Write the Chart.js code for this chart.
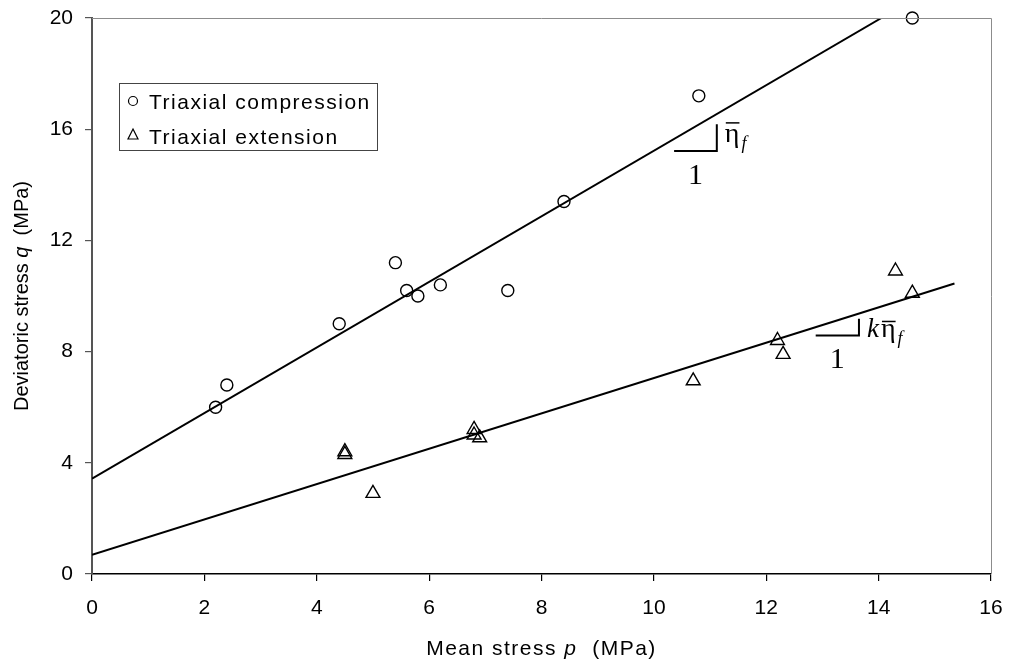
<!DOCTYPE html>
<html>
<head>
<meta charset="utf-8">
<script src="https://cdn.jsdelivr.net/npm/chart.js@4.4.1/dist/chart.umd.min.js"></script>
<style>
  html, body { margin: 0; padding: 0; background: #fff; }
  .chart-container { position: relative; width: 1010px; height: 665px; }
</style>
</head>
<body>
<div class="chart-container"><canvas id="stressChart"></canvas></div>
<script>
/* Deviatoric stress q vs mean stress p — triaxial compression / extension */

const compP = [2.2, 2.4, 4.4, 5.4, 5.6, 5.8, 6.2, 7.4, 8.4, 10.8, 14.6];
const compQ = [6.0, 6.8, 9.0, 11.2, 10.2, 10.0, 10.4, 10.2, 13.4, 17.2, 20.0];

const extP = [4.5, 4.5, 5.0, 6.8, 6.8, 6.9, 10.7, 12.2, 12.3, 14.3, 14.6];
const extQ = [4.3, 4.4, 2.9, 5.2, 5.0, 4.9, 6.95, 8.4, 7.9, 10.9, 10.1];

/* fitted lines: start & end point */
const compFitP = [0, 14.05];
const compFitQ = [3.43, 20.0];
const extFitP = [0, 15.35];
const extFitQ = [0.69, 10.45];

const xTicks = [0, 2, 4, 6, 8, 10, 12, 14, 16];
const yTicks = [0, 4, 8, 12, 16, 20];

const SANS = '"Liberation Sans", Arial, sans-serif';
const SERIF = '"Liberation Serif", "Times New Roman", serif';

const pts = (xs, ys) => xs.map((x, i) => ({ x, y: ys[i] }));

/* slope triangles in data units (corner, leg ends) */
const slopes = [
  { cx: 11.12, cy: 15.22, x0: 10.36, y1: 16.18, k: false },
  { cx: 13.65, cy: 8.58, x0: 12.88, y1: 9.18, k: true }
];

/* draw a run of text pieces with different fonts, left to right */
function drawRun(ctx, x, y, parts) {
  parts.forEach(p => {
    ctx.font = p.font;
    ctx.fillText(p.text, x, y);
    x += ctx.measureText(p.text).width;
  });
}

function runWidth(ctx, parts) {
  return parts.reduce((w, p) => { ctx.font = p.font; return w + ctx.measureText(p.text).width; }, 0);
}

const extras = {
  id: 'extras',
  afterDraw(chart) {
    const { ctx, chartArea: a, scales: { x, y } } = chart;
    ctx.save();

    /* top + right frame (gray) */
    ctx.strokeStyle = '#8c8c8c';
    ctx.lineWidth = 1;
    ctx.beginPath();
    ctx.moveTo(a.left, a.top + 0.5);
    ctx.lineTo(a.right + 0.5, a.top + 0.5);
    ctx.lineTo(a.right + 0.5, a.bottom);
    ctx.stroke();

    ctx.fillStyle = '#000';
    ctx.textBaseline = 'alphabetic';

    /* y axis title */
    const yt = [
      { text: 'Deviatoric stress ', font: `20px ${SANS}` },
      { text: 'q', font: `italic 20px ${SANS}` },
      { text: '  (MPa)', font: `20px ${SANS}` }
    ];
    const yw = runWidth(ctx, yt);
    ctx.save();
    ctx.translate(28, (a.top + a.bottom) / 2);
    ctx.rotate(-Math.PI / 2);
    drawRun(ctx, -yw / 2, 0, yt);
    ctx.restore();

    ctx.letterSpacing = '1.5px';

    /* x axis title */
    const xt = [
      { text: 'Mean stress ', font: `21px ${SANS}` },
      { text: 'p', font: `italic 21px ${SANS}` },
      { text: '  (MPa)', font: `21px ${SANS}` }
    ];
    const xw = runWidth(ctx, xt);
    drawRun(ctx, (a.left + a.right) / 2 - xw / 2, a.bottom + 81, xt);

    /* legend box */
    const lx = a.left + 27, ly = a.top + 65;
    ctx.strokeStyle = '#444';
    ctx.lineWidth = 1;
    ctx.strokeRect(lx + 0.5, ly + 0.5, 258, 67);
    ctx.strokeStyle = '#000';
    ctx.lineWidth = 1.2;
    ctx.beginPath();
    ctx.arc(lx + 14, ly + 18, 4.5, 0, Math.PI * 2);
    ctx.stroke();
    ctx.beginPath();
    ctx.moveTo(lx + 14, ly + 46);
    ctx.lineTo(lx + 19, ly + 56);
    ctx.lineTo(lx + 9, ly + 56);
    ctx.closePath();
    ctx.stroke();
    ctx.font = `21px ${SANS}`;
    ctx.fillText('Triaxial compression', lx + 30, ly + 26);
    ctx.fillText('Triaxial extension', lx + 30, ly + 61);
    ctx.letterSpacing = '0px';

    /* slope triangles + labels */
    slopes.forEach(s => {
      const cx = x.getPixelForValue(s.cx), cy = y.getPixelForValue(s.cy);
      const x0 = x.getPixelForValue(s.x0), y1 = y.getPixelForValue(s.y1);
      ctx.strokeStyle = '#000';
      ctx.lineWidth = 2;
      ctx.beginPath();
      ctx.moveTo(x0, cy);
      ctx.lineTo(cx, cy);
      ctx.lineTo(cx, y1);
      ctx.stroke();

      ctx.font = `30px ${SERIF}`;
      ctx.textAlign = 'center';
      ctx.fillText('1', (x0 + cx) / 2, cy + 33);
      ctx.textAlign = 'left';

      let tx = cx + 8, base = cy - 9;
      if (s.k) {
        base = cy + 2;
        ctx.font = `italic 27px ${SERIF}`;
        ctx.fillText('k', cx + 8, base);
        tx = cx + 22;
      }
      ctx.font = `28px ${SERIF}`;
      ctx.fillText('\u03b7', tx, base);
      const ew = ctx.measureText('\u03b7').width;
      ctx.lineWidth = 1.5;
      ctx.beginPath();
      ctx.moveTo(tx + 1, base - (s.k ? 16 : 19));
      ctx.lineTo(tx + ew, base - (s.k ? 16 : 19));
      ctx.stroke();
      ctx.font = `italic 18px ${SERIF}`;
      ctx.fillText('f', tx + ew + 2, base + 7);
    });

    ctx.restore();
  }
};

const ctx = document.getElementById('stressChart').getContext('2d');

new Chart(ctx, {
  type: 'scatter',
  data: {
    datasets: [
      {
        label: 'Triaxial compression',
        data: pts(compP, compQ),
        pointStyle: 'circle',
        pointRadius: 6,
        borderColor: '#000',
        backgroundColor: 'rgba(0,0,0,0)',
        pointBorderWidth: 1.4,
        clip: false
      },
      {
        label: 'Triaxial extension',
        data: pts(extP, extQ),
        pointStyle: 'triangle',
        pointRadius: 8,
        borderColor: '#000',
        backgroundColor: 'rgba(0,0,0,0)',
        pointBorderWidth: 1.4,
        clip: false
      },
      {
        type: 'line',
        label: 'fit compression',
        data: pts(compFitP, compFitQ),
        borderColor: '#000',
        borderWidth: 2,
        pointRadius: 0,
        fill: false
      },
      {
        type: 'line',
        label: 'fit extension',
        data: pts(extFitP, extFitQ),
        borderColor: '#000',
        borderWidth: 2,
        pointRadius: 0,
        fill: false
      }
    ]
  },
  options: {
    responsive: true,
    maintainAspectRatio: false,
    animation: false,
    layout: { padding: { top: 18, right: 19, left: 0, bottom: 0 } },
    plugins: { legend: { display: false }, tooltip: { enabled: false } },
    scales: {
      x: {
        type: 'linear',
        min: 0, max: 16,
        afterBuildTicks: (s) => { s.ticks = xTicks.map(v => ({ value: v })); },
        afterFit: (s) => { s.height = 91; s.paddingLeft = 0; s.paddingRight = 0; },
        ticks: { color: '#000', font: { family: SANS, size: 21 }, padding: 15, maxRotation: 0 },
        grid: { drawOnChartArea: false, drawTicks: true, tickLength: 7, color: '#000', lineWidth: 1.2 },
        border: { color: '#000', width: 1.5 }
      },
      y: {
        min: 0, max: 20,
        afterBuildTicks: (s) => { s.ticks = yTicks.map(v => ({ value: v })); },
        afterFit: (s) => { s.width = 92; s.paddingTop = 0; s.paddingBottom = 0; },
        ticks: { color: '#000', font: { family: SANS, size: 21 }, padding: 12 },
        grid: { drawOnChartArea: false, drawTicks: true, tickLength: 7, color: '#555', lineWidth: 1.2 },
        border: { color: '#555', width: 2 }
      }
    }
  },
  plugins: [extras]
});
</script>
</body>
</html>
